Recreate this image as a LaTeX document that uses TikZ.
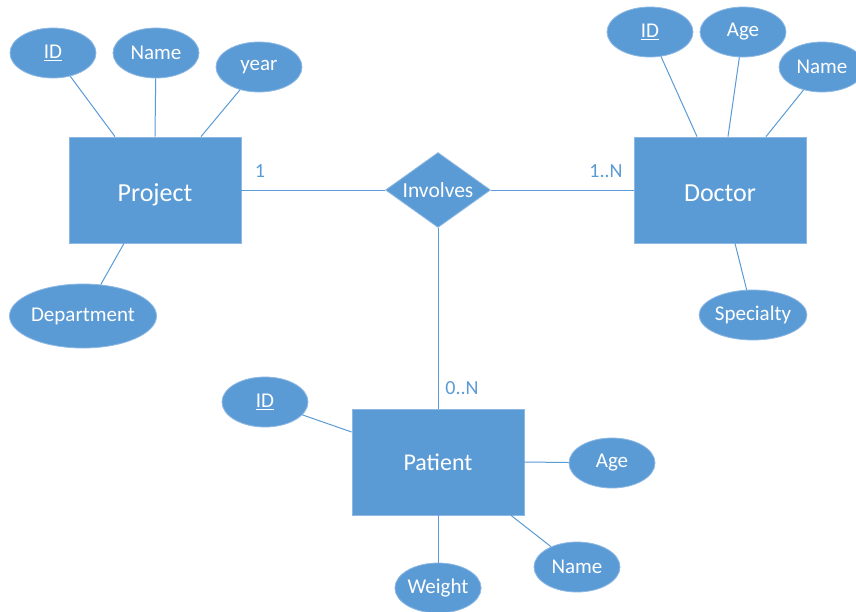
\documentclass[tikz,border=0pt]{standalone}
\usepackage{fontspec}
\setmainfont{Carlito}
\usetikzlibrary{shapes.geometric}
\definecolor{erblue}{HTML}{5B9BD5}
\definecolor{eredge}{HTML}{8DB8E4}
\begin{document}
\begin{tikzpicture}[x=1pt,y=-1pt,
  entity/.style={rectangle,fill=erblue,draw=eredge,line width=0.8pt,
    minimum width=172pt,minimum height=106pt,inner sep=0pt,
    text height=22pt,text depth=0pt,
    text=white,font=\fontsize{26}{30}\selectfont},
  attr/.style={ellipse,fill=erblue,draw=eredge,line width=0.8pt,
    minimum width=86pt,minimum height=50pt,inner sep=0pt,
    text=white,font=\fontsize{21}{24}\selectfont},
  rel/.style={diamond,fill=erblue,draw=eredge,line width=0.8pt,
    minimum width=105pt,minimum height=75pt,inner sep=0pt,aspect=1.4,
    text=white,font=\fontsize{21.5}{24}\selectfont},
  link/.style={draw=erblue,line width=1pt},
  card/.style={text=erblue,font=\fontsize{20}{23}\selectfont,inner sep=0pt}]
\useasboundingbox (0,0) rectangle (856,611);
\clip (0,0) rectangle (856,611);
\fill[white] (0,0) rectangle (856,611);

% entities and relationship
\node[entity] (project) at (155,190) {Project};
\node[entity] (doctor) at (720,190) {Doctor};
\node[entity,text height=17pt,font=\fontsize{24}{28}\selectfont] (patient) at (438,462) {Patient};
\node[rel] (involves) at (438,190) {Involves};

% attributes of Project
\node[attr] (pid) at (53,53) {\underline{ID}};
\node[attr] (pname) at (156,53) {Name};
\node[attr] (pyear) at (259,67) {year};
\node[attr,minimum width=147pt,minimum height=64pt] (pdept) at (83,316) {Department};

% attributes of Doctor
\node[attr] (did) at (650,32) {\underline{ID}};
\node[attr] (dage) at (743,32) {Age};
\node[attr] (dname) at (822,67) {Name};
\node[attr,minimum width=107pt] (dspec) at (753,315) {Specialty};

% attributes of Patient
\node[attr] (tid) at (265,402) {\underline{ID}};
\node[attr] (tage) at (612,463) {Age};
\node[attr] (tname) at (577,567) {Name};
\node[attr] (tweight) at (438,588) {Weight};

% relationship links
\draw[link] (project.east) -- (involves.west);
\draw[link] (involves.east) -- (doctor.west);
\draw[link] (involves.south) -- (patient.north);

% attribute links
\draw[link] (pid) -- ([xshift=-40pt]project.north);
\draw[link] (pname) -- (project.north);
\draw[link] (pyear) -- ([xshift=46pt]project.north);
\draw[link] (pdept) -- ([xshift=-31pt]project.south);
\draw[link] (did) -- ([xshift=-23pt]doctor.north);
\draw[link] (dage) -- ([xshift=8pt]doctor.north);
\draw[link] (dname) -- ([xshift=46pt]doctor.north);
\draw[link] (dspec) -- ([xshift=15pt]doctor.south);
\draw[link] (tid.-19) -- ([yshift=30pt]patient.west);
\draw[link] (tage) -- (patient.east);
\draw[link] (tname) -- ([xshift=73pt]patient.south);
\draw[link] (tweight) -- (patient.south);

% cardinalities
\node[card] (c1) at (260,171) {1};
\node[card] (c2) at (606,171) {1..N};
\node[card] (c3) at (462,388) {0..N};
\end{tikzpicture}
\end{document}
